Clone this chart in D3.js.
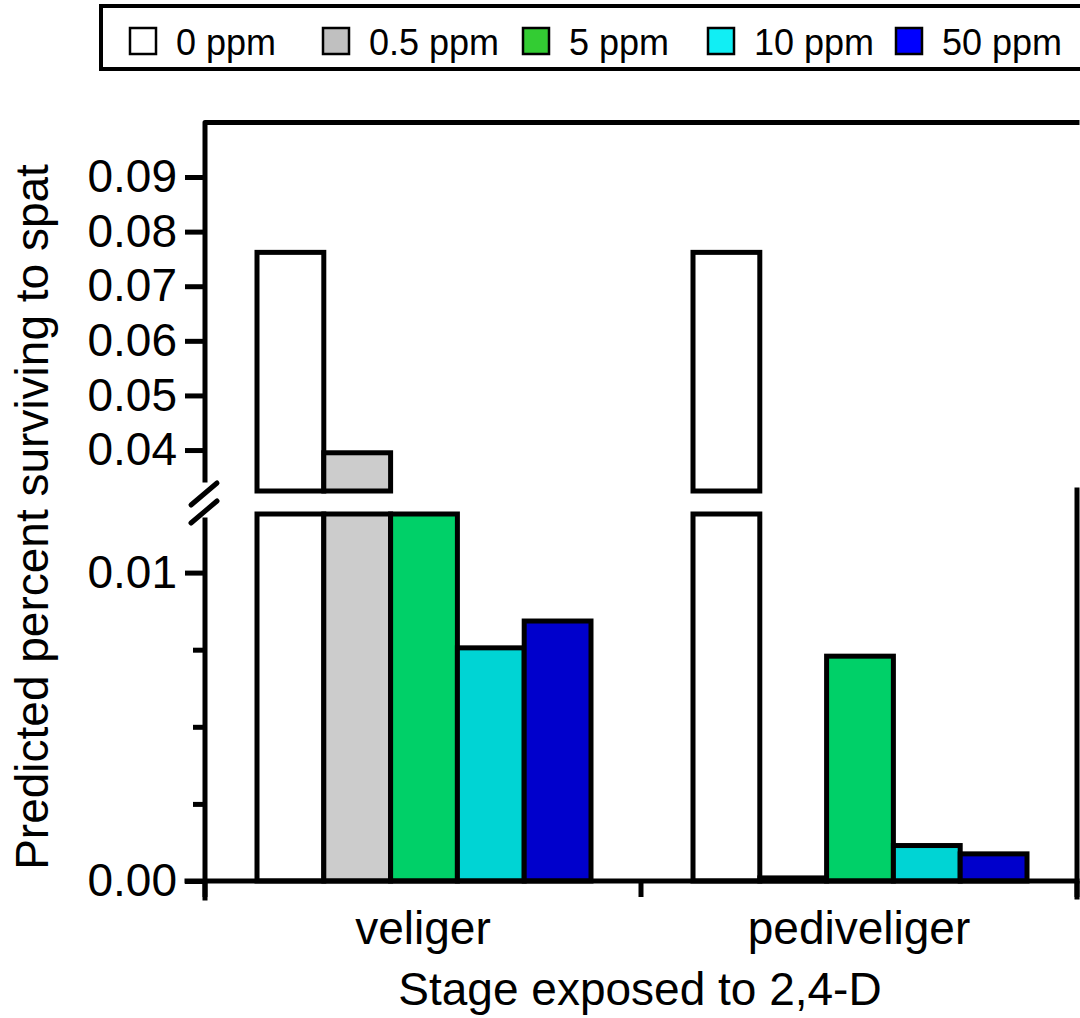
<!DOCTYPE html>
<html>
<head>
<meta charset="utf-8">
<script src="https://cdn.jsdelivr.net/npm/d3@7"></script>
<style>
  html, body { margin: 0; padding: 0; background: #fff; }
  svg { display: block; font-family: "Liberation Sans", Arial, sans-serif; }
</style>
</head>
<body>
<svg id="chart" width="1080" height="1018"></svg>
<script>
// Stages of larval exposure and 2,4-D doses
const stages = ["veliger", "pediveliger"];
const doses = ["0 ppm", "0.5 ppm", "5 ppm", "10 ppm", "50 ppm"];

// Predicted percent surviving to spat, per dose, for each stage
const veligerValues = [0.0762, 0.0395, 0.0200, 0.00756, 0.00843];
const pediveligerValues = [0.0762, 0.0001, 0.00729, 0.00115, 0.00088];

// Axis ticks for the two segments of the broken y axis
const lowerTicks = [0, 0.01];
const lowerMinorTicks = [0.0025, 0.005, 0.0075];
const upperTicks = [0.04, 0.05, 0.06, 0.07, 0.08, 0.09];

// Fill colours of the bars and of the legend swatches
const barColors = ["#ffffff", "#cccccc", "#00d068", "#00d4d4", "#0000cc"];
const legendColors = ["#ffffff", "#c0c0c0", "#33cc33", "#11eef4", "#0000ff"];

const rows = stages.map((s, i) => ({
  stage: s,
  values: (i === 0 ? veligerValues : pediveligerValues).map((v, j) => ({ dose: doses[j], value: v, idx: j }))
}));

const svg = d3.select("#chart");

// Layout
const left = 205, right = 1077;
const baseY = 881;
const lowerDomain = [0, 0.0119];
const upperDomain = [0.0325, 0.1];

const yLow = d3.scaleLinear().domain(lowerDomain).range([baseY, 514]);
const yUp = d3.scaleLinear().domain(upperDomain).range([491, 122.4]);

const x0 = d3.scaleBand().domain(stages).range([left, right]).padding(0);
const x1 = d3.scaleBand().domain(doses).range([52, x0.bandwidth() - 50]).padding(0);

const strokeW = 5;

// Bars
const groups = svg.append("g").selectAll("g")
  .data(rows).join("g")
  .attr("transform", d => `translate(${x0(d.stage)},0)`);

// lower segment
groups.selectAll("rect.low")
  .data(d => d.values).join("rect")
  .attr("class", "low")
  .attr("x", d => x1(d.dose))
  .attr("width", x1.bandwidth())
  .attr("y", d => yLow(Math.min(d.value, lowerDomain[1])))
  .attr("height", d => yLow(0) - yLow(Math.min(d.value, lowerDomain[1])))
  .attr("fill", d => barColors[d.idx])
  .attr("stroke", "#000")
  .attr("stroke-width", strokeW);

// upper segment
groups.selectAll("rect.up")
  .data(d => d.values.filter(v => v.value > upperDomain[0])).join("rect")
  .attr("class", "up")
  .attr("x", d => x1(d.dose))
  .attr("width", x1.bandwidth())
  .attr("y", d => yUp(Math.min(d.value, upperDomain[1])))
  .attr("height", d => yUp(upperDomain[0]) - yUp(Math.min(d.value, upperDomain[1])))
  .attr("fill", d => barColors[d.idx])
  .attr("stroke", "#000")
  .attr("stroke-width", strokeW);

// Y axis styling helper
function styleAxis(g, fontSize) {
  g.selectAll("path.domain").remove();
  g.selectAll("line").attr("stroke", "#000").attr("stroke-width", 5);
  g.selectAll("text").attr("fill", "#000").attr("font-size", fontSize)
    .attr("font-family", "'Liberation Sans', Arial, sans-serif");
}

// lower segment of the y axis
const gLow = svg.append("g").attr("transform", `translate(${left},0)`)
  .call(d3.axisLeft(yLow).tickValues(lowerTicks).tickFormat(d3.format(".2f")).tickSize(20).tickPadding(8).tickSizeOuter(0));
styleAxis(gLow, 46);
svg.append("g").attr("transform", `translate(${left},0)`)
  .call(d3.axisLeft(yLow).tickValues(lowerMinorTicks).tickFormat("").tickSize(12).tickSizeOuter(0))
  .call(g => styleAxis(g, 46));

// upper segment of the y axis
const gUp = svg.append("g").attr("transform", `translate(${left},0)`)
  .call(d3.axisLeft(yUp).tickValues(upperTicks).tickFormat(d3.format(".2f")).tickSize(20).tickPadding(8).tickSizeOuter(0));
styleAxis(gUp, 46);

// axis lines with the break
const axisLines = svg.append("g").attr("stroke", "#000").attr("stroke-width", 5).attr("fill", "none")
  .attr("stroke-linecap", "square");
axisLines.append("path").attr("d", `M${left},480 V${yUp(upperDomain[1])} H${right}`).attr("stroke-linejoin", "round");
axisLines.append("line").attr("x1", left).attr("x2", left).attr("y1", 520).attr("y2", baseY + 17);
axisLines.append("line").attr("x1", 191).attr("y1", 505).attr("x2", 217).attr("y2", 483).attr("stroke-linecap", "round");
axisLines.append("line").attr("x1", 191).attr("y1", 523).attr("x2", 217).attr("y2", 501).attr("stroke-linecap", "round");
axisLines.append("line").attr("x1", right).attr("x2", right).attr("y1", 490).attr("y2", baseY + 16);

// x axis: baseline, boundary ticks and stage labels
axisLines.append("line").attr("x1", left - 18).attr("x2", right).attr("y1", baseY).attr("y2", baseY);
const boundaries = stages.map(s => x0(s)).concat([x0.range()[1]]);
svg.append("g").selectAll("line").data(boundaries).join("line")
  .attr("x1", d => d).attr("x2", d => d).attr("y1", baseY).attr("y2", baseY + 16)
  .attr("stroke", "#000").attr("stroke-width", 5);

const gx = svg.append("g").attr("transform", `translate(0,${baseY})`)
  .call(d3.axisBottom(x0).tickSize(0).tickPadding(30));
gx.selectAll("path.domain").remove();
gx.selectAll("text").attr("fill", "#000").attr("font-size", 46)
  .attr("font-family", "'Liberation Sans', Arial, sans-serif");

// axis titles
svg.append("text").attr("x", 640).attr("y", 1005).attr("text-anchor", "middle")
  .attr("font-size", 46).text("Stage exposed to 2,4-D");
svg.append("text").attr("transform", "translate(48,517) rotate(-90)").attr("text-anchor", "middle")
  .attr("font-size", 46).text("Predicted percent surviving to spat");

// Legend
const legend = svg.append("g");
legend.append("rect").attr("x", 101).attr("y", 6).attr("width", 1060).attr("height", 63)
  .attr("fill", "#fff").attr("stroke", "#000").attr("stroke-width", 4);
const legendX = [130, 323, 523, 708, 896];
const items = legend.selectAll("g.item").data(doses).join("g").attr("class", "item")
  .attr("transform", (d, i) => `translate(${legendX[i]},0)`);
items.append("rect").attr("x", 0).attr("y", 28).attr("width", 26).attr("height", 26)
  .attr("fill", (d, i) => legendColors[i]).attr("stroke", "#000").attr("stroke-width", 2.5);
items.append("text").attr("x", 46).attr("y", 55)
  .attr("font-size", 36).attr("fill", "#000").text(d => d);
</script>
</body>
</html>
